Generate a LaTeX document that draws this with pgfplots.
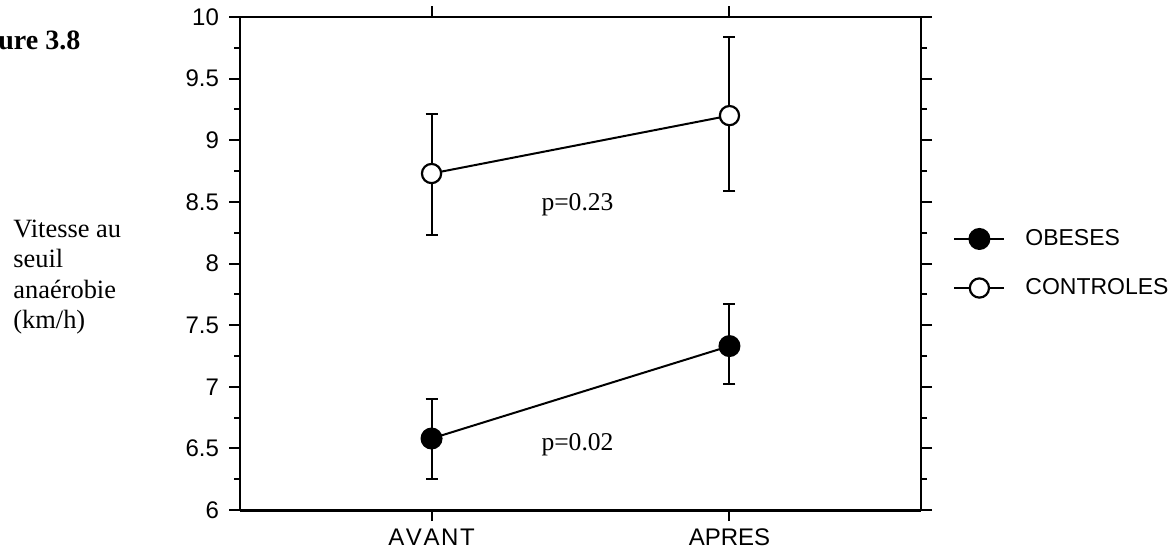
\documentclass[border=0pt]{standalone}
\usepackage{fontspec}
\setmainfont{Liberation Sans}
\newfontfamily\tnr{Liberation Serif}
\usepackage{pgfplots}
\usepackage{pgfplotstable}
\pgfplotsset{compat=1.18}
\pgfplotstableread{
x y ep em
0 6.58 0.32 0.33
1 7.33 0.34 0.31
}\obeses
\pgfplotstableread{
x y ep em
0 8.73 0.48 0.50
1 9.20 0.64 0.61
}\controles
\begin{document}
\begin{tikzpicture}[x=1pt,y=1pt]
\useasboundingbox (0,0) rectangle (586.5,279);
\node[anchor=base west, inner sep=0pt, font=\tnr\bfseries\fontsize{14}{16}\selectfont] at (-1,254) {ure 3.8};
\node[anchor=base west, inner sep=0pt, align=left, font=\tnr\fontsize{13.2}{15.25}\selectfont] at (6.5,114.75) {Vitesse au\\seuil\\ana\'erobie\\(km/h)};
\begin{axis}[at={(120pt,24pt)}, anchor=south west, scale only axis,
 width=340.5pt, height=246.5pt,
 xmin=-0.643, xmax=1.643, ymin=6, ymax=10,
 xtick={0,1}, xticklabels={A\kern0.8pt V\kern0.8pt A\kern0.8pt N\kern0.8pt T,APRES},
 ytick={6,6.5,7,7.5,8,8.5,9,9.5,10},
 yticklabels={6,6.5,7,7.5,8,8.5,9,9.5,10},
 minor ytick={6.25,6.75,7.25,7.75,8.25,8.75,9.25,9.75},
 tick align=outside, major tick length=5.5pt, minor tick length=3pt,
 tick style={line width=1pt, black},
 axis line style={line width=1.1pt},
 yticklabel style={font=\fontsize{12}{14}\selectfont, xshift=-1.5pt},
 xticklabel style={font=\fontsize{12}{14}\selectfont, text height=8.7pt, text depth=0pt},
 legend style={at={(1.047,0.5)}, anchor=west, draw=none, fill=none,
   font=\fontsize{11.5}{13}\selectfont, row sep=11pt, column sep=8pt, inner sep=0pt},
 legend cell align=left,
 legend image code/.code={\draw[mark repeat=2,mark phase=2] plot coordinates {(0pt,0pt)(12.5pt,0pt)(25pt,0pt)};},
 clip=false,
]
\addplot[black, line width=1pt, mark=*, mark size=5pt, mark options={fill=black, solid},
  error bars/.cd, y dir=both, y explicit,
  error bar style={black, line width=1pt},
  error mark=|,
  error mark options={black, line width=1pt, mark size=3pt}]
  table[x=x, y=y, y error plus=ep, y error minus=em] {\obeses};
\addlegendentry{OBESES}
\addplot[black, line width=1pt, mark=*, mark size=4.8pt, mark options={fill=white, draw=black, line width=1.1pt, solid},
  error bars/.cd, y dir=both, y explicit,
  error bar style={black, line width=1pt},
  error mark=|,
  error mark options={black, line width=1pt, mark size=3pt}]
  table[x=x, y=y, y error plus=ep, y error minus=em] {\controles};
\addlegendentry{CONTROLES}
\draw[line width=1.5pt] (rel axis cs:0,0) -- (rel axis cs:1,0);
\node[font=\tnr\fontsize{12.8}{14}\selectfont] at (axis cs:0.49,8.48) {p=0.23};
\node[font=\tnr\fontsize{12.8}{14}\selectfont] at (axis cs:0.49,6.53) {p=0.02};
\end{axis}
\end{tikzpicture}
\end{document}
